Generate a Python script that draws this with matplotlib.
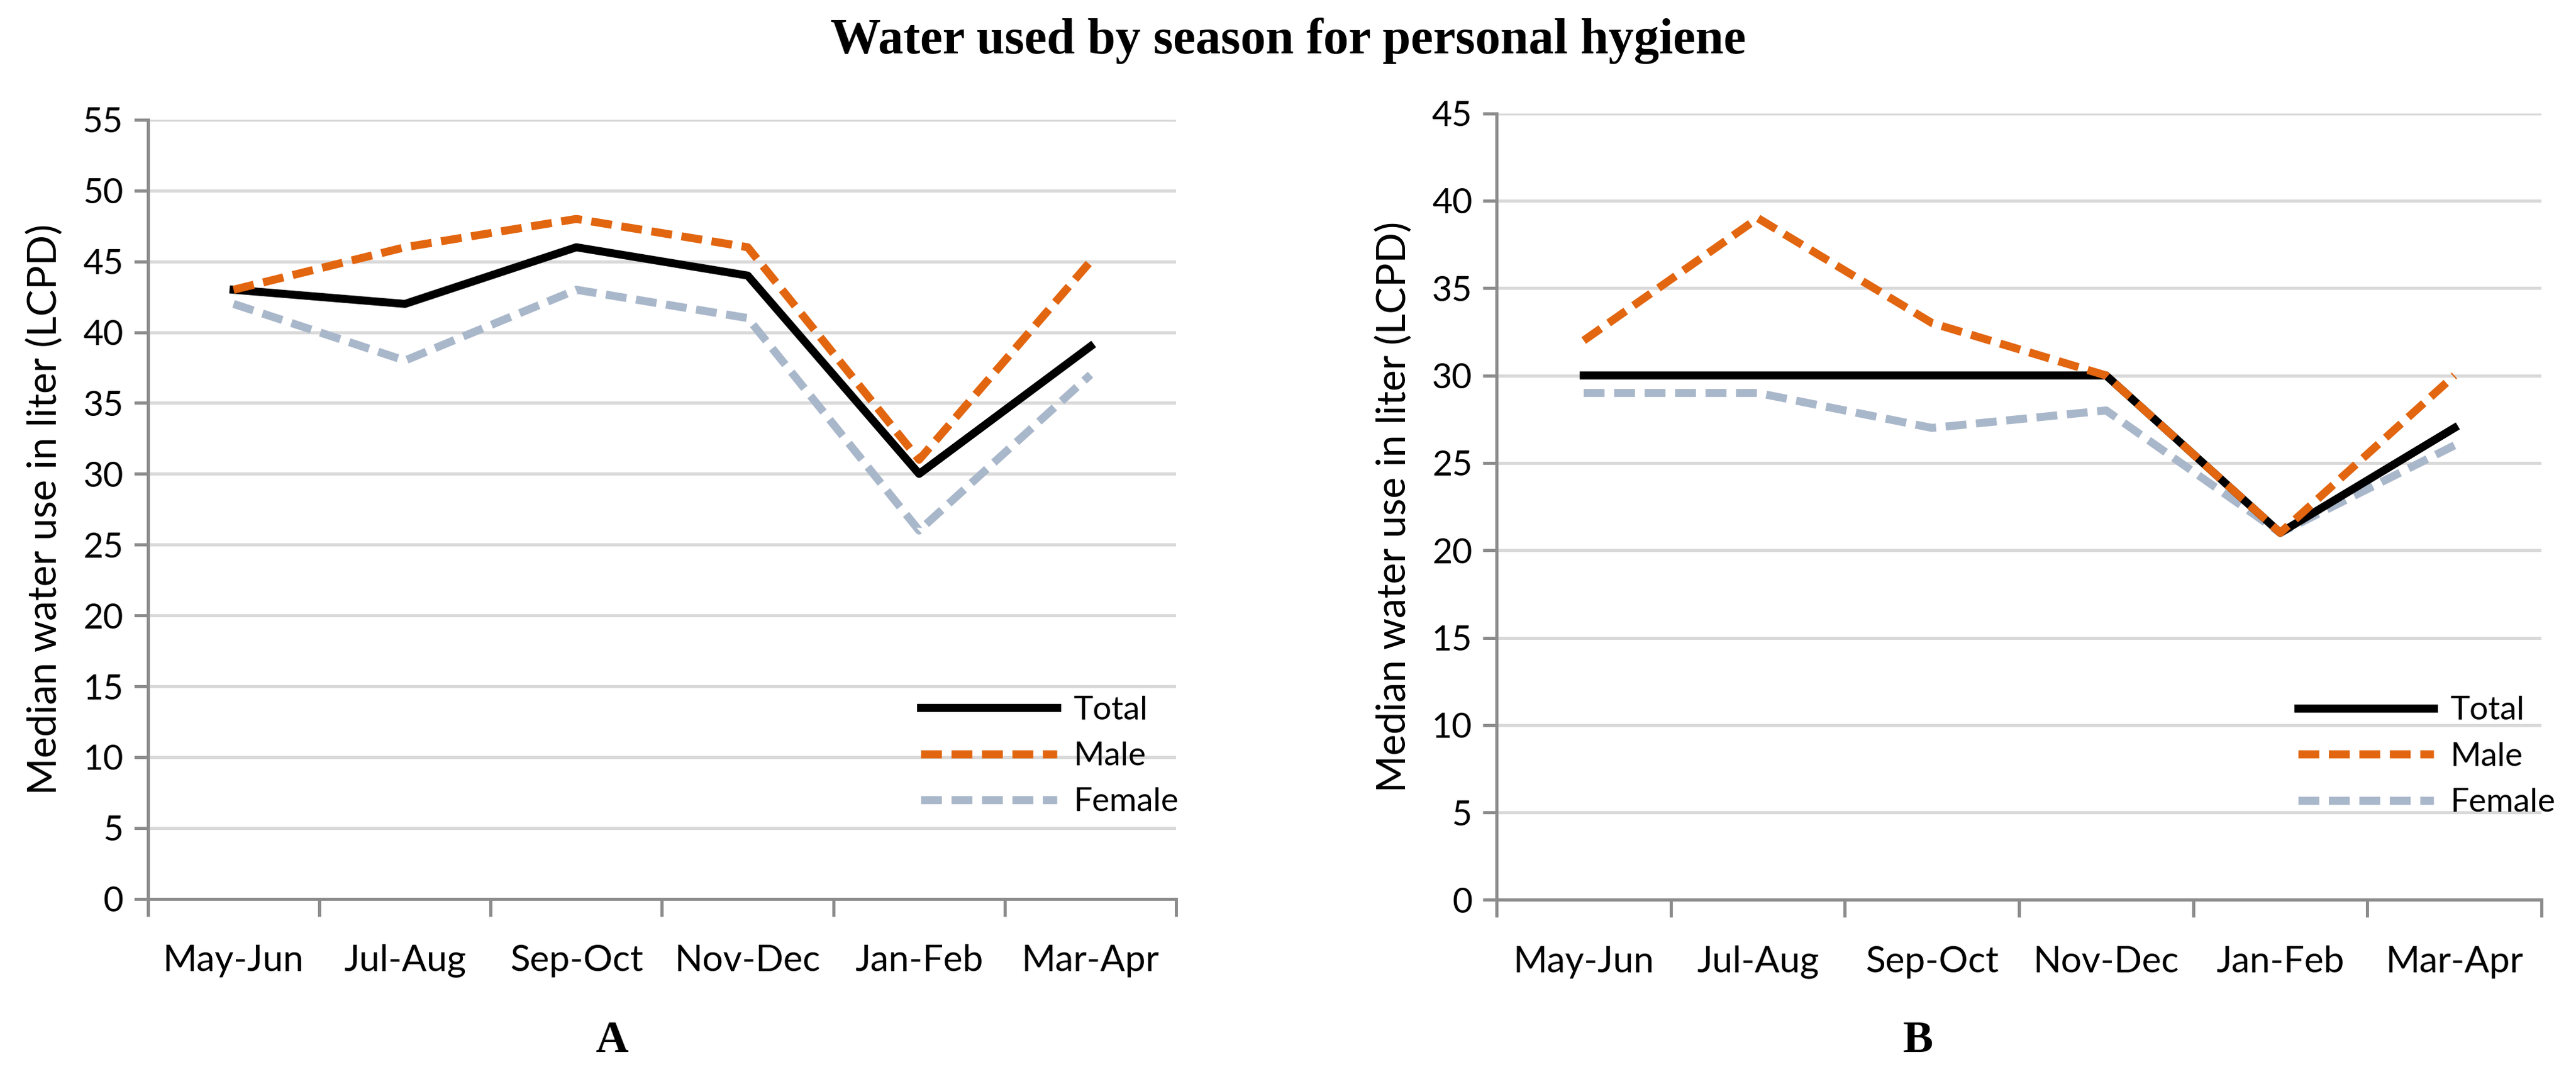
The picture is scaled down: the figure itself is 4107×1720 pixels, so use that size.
import matplotlib
matplotlib.use("Agg")
import matplotlib.pyplot as plt
import numpy as np

categories = ["May-Jun", "Jul-Aug", "Sep-Oct", "Nov-Dec", "Jan-Feb", "Mar-Apr"]

a_total = [43, 42, 46, 44, 30, 39]
a_male = [43, 46, 48, 46, 31, 45]
a_female = [42, 38, 43, 41, 26, 37]

b_total = [30, 30, 30, 30, 21, 27]
b_male = [32, 39, 33, 30, 21, 30]
b_female = [29, 29, 27, 28, 21, 26]

title = "Water used by season for personal hygiene"
ylabel = "Median water use in liter (LCPD)"

plt.rcParams['font.family'] = ['Lato', 'DejaVu Sans']

fig = plt.figure(figsize=(20.535, 8.6), dpi=200)

ORANGE = "#E2650F"
GREY = "#A9B7CA"
AXC = "#8C8C8C"
GRID = "#D9D9D9"
LW = 4.6
DASH = (0, (2.6, 1.2))

def draw(ax, tot, male, fem, ymax, legend_anchor):
    x = np.arange(len(categories))
    ax.plot(x, fem, color=GREY, lw=LW, ls=DASH, label="Female", zorder=3)
    ax.plot(x, tot, color="black", lw=LW, label="Total", zorder=4)
    ax.plot(x, male, color=ORANGE, lw=LW, ls=DASH, label="Male", zorder=5)
    ax.set_xlim(-0.5, len(categories) - 0.5)
    ax.set_ylim(0, ymax)
    ax.set_yticks(np.arange(0, ymax + 1, 5))
    ax.yaxis.grid(True, color=GRID, lw=1.8)
    ax.set_axisbelow(True)
    ax.set_xticks(np.arange(-0.5, len(categories), 1.0))
    ax.set_xticklabels([])
    ax.set_xticks(x, minor=True)
    ax.set_xticklabels(categories, minor=True, fontsize=21)
    ax.tick_params(axis='x', which='minor', length=0, pad=26)
    ax.tick_params(axis='x', which='major', length=10, width=1.8, color=AXC, direction='out')
    ax.tick_params(axis='y', length=8, width=1.8, color=AXC, labelsize=20, pad=6)
    for s in ['top', 'right']:
        ax.spines[s].set_visible(False)
    for s in ['left', 'bottom']:
        ax.spines[s].set_color(AXC)
        ax.spines[s].set_linewidth(1.8)
    ax.set_ylabel(ylabel, fontsize=23, labelpad=11)
    h, l = ax.get_legend_handles_labels()
    order = [l.index("Total"), l.index("Male"), l.index("Female")]
    ax.legend([h[i] for i in order], [l[i] for i in order], frameon=False,
              loc='lower right', bbox_to_anchor=legend_anchor, fontsize=19,
              handlelength=4.1, handletextpad=0.5, labelspacing=0.5, borderaxespad=0)

axA = fig.add_axes([0.0574, 0.167, 0.3992, 0.722])
draw(axA, a_total, a_male, a_female, 55, (1.015, 0.088))
axB = fig.add_axes([0.581, 0.166, 0.4056, 0.729])
draw(axB, b_total, b_male, b_female, 45, (1.026, 0.088))

fig.text(0.5, 0.962, title, ha='center', va='center', fontsize=29,
         fontweight='bold', family='Liberation Serif')
fig.text(0.2375, 0.035, "A", ha='center', va='center', fontsize=26,
         fontweight='bold', family='Liberation Serif')
fig.text(0.7445, 0.035, "B", ha='center', va='center', fontsize=26,
         fontweight='bold', family='Liberation Serif')

fig.savefig("out.png", dpi=200)
